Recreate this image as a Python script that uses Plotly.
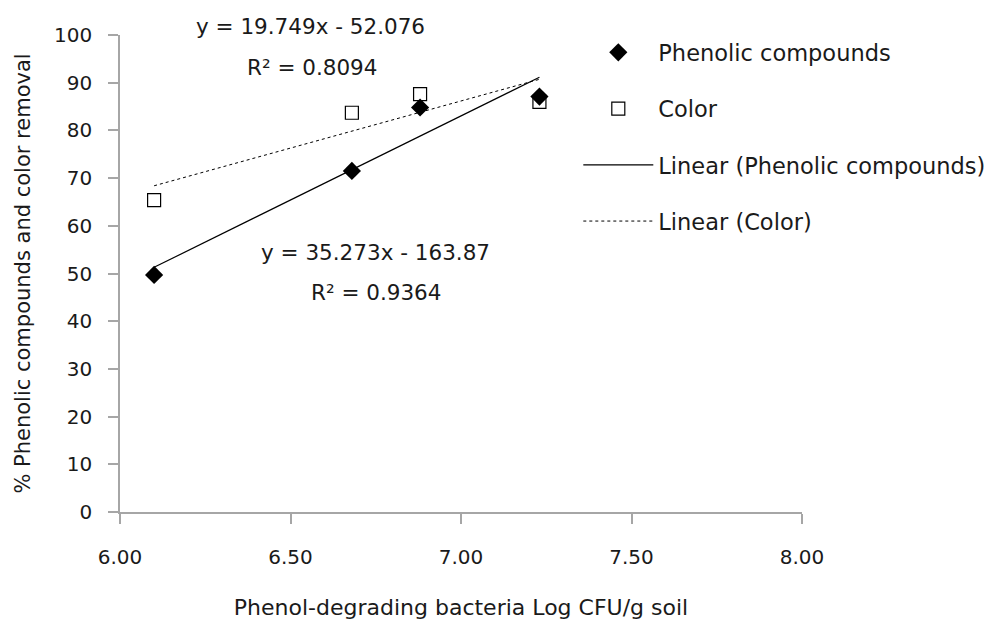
import plotly.graph_objects as go

# Bacterial counts (Log CFU/g soil) and removal efficiencies (%)
log_cfu = [6.10, 6.68, 6.88, 7.23]
phenolic_removal = [49.7, 71.5, 84.8, 87.1]
color_removal = [65.4, 83.7, 87.6, 86.0]

# Linear trendline coefficients (slope, intercept) and R² values
phenolic_fit = (35.273, -163.87)
phenolic_r2 = 0.9364
color_fit = (19.749, -52.076)
color_r2 = 0.8094

x_ticks = [6.0, 6.5, 7.0, 7.5, 8.0]
y_ticks = list(range(0, 101, 10))

FONT = "DejaVu Sans"
TXT = "#1a1a1a"
AX = "#a6a6a6"

x_line = [min(log_cfu), max(log_cfu)]


def fit_line(coefs, xs):
    m, b = coefs
    return [m * v + b for v in xs]


def eq_text(coefs):
    m, b = coefs
    sign = "-" if b < 0 else "+"
    return f"y = {m}x {sign} {abs(b)}"


fig = go.Figure()

fig.add_trace(go.Scatter(
    x=log_cfu, y=phenolic_removal, mode="markers", name="Phenolic compounds",
    legendgroup="a",
    marker=dict(symbol="diamond", size=14, color="black"),
))
fig.add_trace(go.Scatter(
    x=log_cfu, y=color_removal, mode="markers", name="Color",
    legendgroup="b",
    marker=dict(symbol="square-open", size=13, color="black", line=dict(width=1.2)),
))
fig.add_trace(go.Scatter(
    x=x_line, y=fit_line(phenolic_fit, x_line), mode="lines",
    name="Linear (Phenolic compounds)", legendgroup="c",
    line=dict(color="black", width=1.2),
))
fig.add_trace(go.Scatter(
    x=x_line, y=fit_line(color_fit, x_line), mode="lines",
    name="Linear (Color)", legendgroup="d",
    line=dict(color="black", width=1, dash="3px,3px"),
))

# Trendline equations, placed in axis-domain coordinates
annotations = [
    dict(x=0.279, y=1.017, text=eq_text(color_fit)),
    dict(x=0.282, y=0.931, text=f"R² = {color_r2}"),
    dict(x=0.374, y=0.545, text=eq_text(phenolic_fit)),
    dict(x=0.376, y=0.461, text=f"R² = {phenolic_r2}"),
]
for a in annotations:
    a.update(xref="x domain", yref="y domain", showarrow=False,
             font=dict(family=FONT, size=21.5, color=TXT),
             xanchor="center", yanchor="middle")

fig.update_layout(
    width=992, height=620,
    margin=dict(l=120, r=190, t=35, b=108, autoexpand=False),
    paper_bgcolor="white", plot_bgcolor="white",
    font=dict(family=FONT, size=20, color=TXT),
    showlegend=True,
    legend=dict(
        x=0.672, y=1.008, xanchor="left", yanchor="top",
        bgcolor="rgba(0,0,0,0)", itemwidth=70,
        tracegroupgap=24, traceorder="grouped",
        font=dict(family=FONT, size=22.5, color=TXT),
    ),
    annotations=annotations,
    xaxis=dict(
        range=[6, 8], tickvals=x_ticks,
        ticktext=[f"{v:.2f}" for v in x_ticks],
        showgrid=False, zeroline=False,
        showline=True, linecolor=AX, linewidth=1.5,
        ticks="outside", ticklen=10, tickcolor=AX, tickwidth=1.5,
        ticklabelstandoff=16,
        tickfont=dict(family=FONT, size=20, color=TXT),
        title=dict(text="Phenol-degrading bacteria Log CFU/g soil", standoff=33,
                   font=dict(family=FONT, size=22, color=TXT)),
    ),
    yaxis=dict(
        range=[0, 100], tickvals=y_ticks,
        showgrid=False, zeroline=False,
        showline=True, linecolor=AX, linewidth=1.5,
        ticks="outside", ticklen=10, tickcolor=AX, tickwidth=1.5,
        ticklabelstandoff=12,
        tickfont=dict(family=FONT, size=20, color=TXT),
        title=dict(text="% Phenolic compounds and color removal", standoff=18,
                   font=dict(family=FONT, size=21, color=TXT)),
    ),
)

fig.write_html("out.html")
